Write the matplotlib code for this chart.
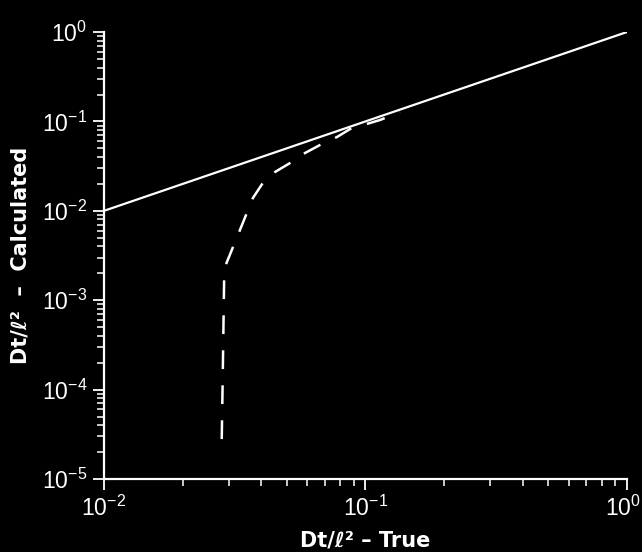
import numpy as np
import matplotlib
matplotlib.use('Agg')
import matplotlib.pyplot as plt
from matplotlib.ticker import LogLocator
from matplotlib.transforms import ScaledTranslation

# true vs calculated values
true_line = [1e-2, 1e0]
calc_line = [1e-2, 1e0]

dash_x = [0.0282, 0.0284, 0.0288, 0.0294, 0.0331, 0.0371, 0.0405, 0.0451,
          0.0515, 0.0587, 0.0670, 0.0778, 0.0873, 0.1136, 0.1355]
dash_y = [2.8e-5, 1.0e-4, 1.68e-3, 2.6e-3, 6.1e-3, 0.0139, 0.0205, 0.0272,
          0.0343, 0.0443, 0.0545, 0.0669, 0.0822, 0.1037, 0.127]

xticks = [1e-2, 1e-1, 1e0]
xtick_labels = ['$10^{-2}$', '$10^{-1}$', '$10^{0}$']
yticks = [1e-5, 1e-4, 1e-3, 1e-2, 1e-1, 1e0]
ytick_labels = ['$10^{-5}$', '$10^{-4}$', '$10^{-3}$', '$10^{-2}$', '$10^{-1}$', '$10^{0}$']

plt.rcParams['font.family'] = ['Liberation Sans', 'DejaVu Sans']
plt.rcParams['mathtext.fontset'] = 'custom'
plt.rcParams['mathtext.rm'] = 'Liberation Sans'
plt.rcParams['mathtext.default'] = 'regular'

fig = plt.figure(figsize=(6.42, 5.52), dpi=100, facecolor='black')
ax = fig.add_axes([0.162, 0.1322, 0.8146, 0.8098], facecolor='black')

ax.plot(true_line, calc_line, color='white', lw=1.6)
ax.plot(dash_x, dash_y, color='white', lw=1.8, dashes=(7.5, 6.5))

ax.set_xscale('log')
ax.set_yscale('log')
ax.set_xticks(xticks, xtick_labels)
ax.set_yticks(yticks, ytick_labels)
ax.xaxis.set_minor_locator(LogLocator(base=10, subs=np.arange(2, 10), numticks=10))
ax.yaxis.set_minor_locator(LogLocator(base=10, subs=np.arange(2, 10), numticks=10))
ax.set_xlim(1e-2, 1e0)
ax.set_ylim(1e-5, 1e0)

for s in ['top', 'right']:
    ax.spines[s].set_visible(False)
for s in ['left', 'bottom']:
    ax.spines[s].set_color('white')
    ax.spines[s].set_linewidth(1.6)

ax.tick_params(which='major', colors='white', length=8, width=1.3,
               labelsize=16.5, direction='out', pad=4)
ax.tick_params(which='minor', colors='white', length=5, width=1.1)

# nudge the last x label so it stays inside the figure
last = ax.xaxis.get_major_ticks()[-1].label1
last.set_transform(last.get_transform() + ScaledTranslation(-4/100, 0, fig.dpi_scale_trans))

ax.set_xlabel('Dt/ℓ² – True', color='white', fontsize=15,
              fontweight='bold', family='DejaVu Sans')
ax.set_ylabel('Dt/ℓ²  –  Calculated', color='white', fontsize=15,
              fontweight='bold', family='DejaVu Sans')
ax.xaxis.set_label_coords(0.5, -0.115)
ax.yaxis.set_label_coords(-0.14, 0.5)

fig.savefig('out.png', dpi=100, facecolor='black')
